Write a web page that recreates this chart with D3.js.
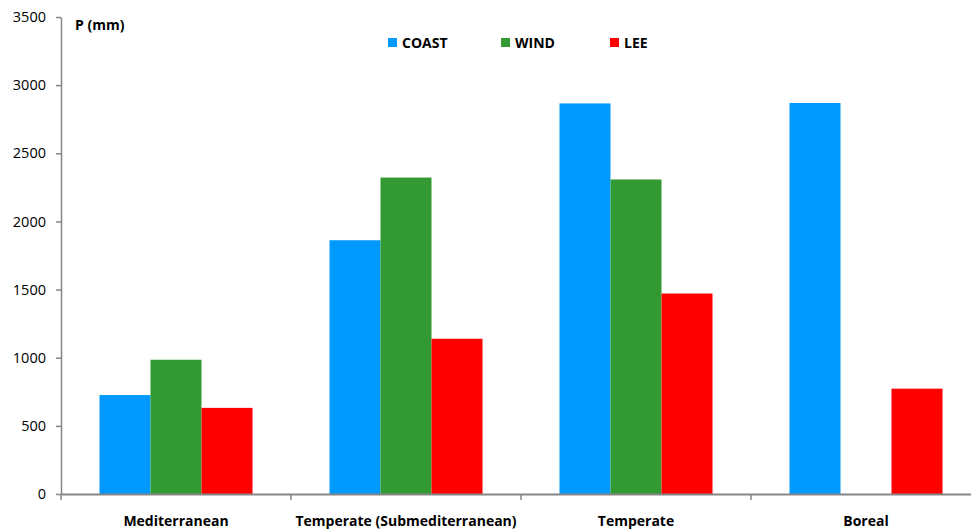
<!DOCTYPE html>
<html lang="en">
<head>
    <meta charset="UTF-8">
    <title>P (mm)</title>
    <script src="https://d3js.org/d3.v7.min.js"></script>
    <style>
        body {margin: 0; background: #fff;}
        text {font-family: "Open Sans", sans-serif;}
    </style>
</head>
<body>
<script>
    const width = 971;
    const height = 531;

    const categories = ["Mediterranean", "Temperate (Submediterranean)", "Temperate", "Boreal"];
    const series = ["COAST", "WIND", "LEE"];
    const coast = [726, 1862, 2866, 2869];
    const wind  = [985, 2322, 2308, null];
    const lee   = [632, 1139, 1471, 773];
    const yTicks = [0, 500, 1000, 1500, 2000, 2500, 3000, 3500];
    const colors = ["#0099ff", "#339933", "#ff0000"];

    const values = [coast, wind, lee];

    const svg = d3.select("body").append("svg")
            .attr("width", width).attr("height", height);

    const x0 = d3.scaleBand().domain(categories).range([61, 981]);
    const x1 = d3.scaleBand().domain(series).range([38.5, 191.5]);
    const y = d3.scaleLinear().domain([0, 3500]).range([494, 17]);

    // y axis
    const yAxis = svg.append("g")
            .attr("transform", "translate(61,0)")
            .call(d3.axisLeft(y).tickValues(yTicks).tickFormat(d3.format("d"))
                    .tickSize(5).tickSizeOuter(0).tickPadding(10));
    yAxis.selectAll("path, line").attr("stroke", "#868686").attr("stroke-width", 1.5);
    yAxis.selectAll("text").style("font-size", "14.5px").attr("fill", "#000");

    // bars
    series.forEach((s, si) => {
        svg.append("g").selectAll("rect")
                .data(categories.map((c, i) => ({c: c, v: values[si][i]})).filter(d => d.v != null))
                .enter()
                .append("rect")
                .attr("x", d => x0(d.c) + x1(s))
                .attr("width", x1.bandwidth())
                .attr("y", d => y(d.v))
                .attr("height", d => y(0) - y(d.v))
                .style("fill", colors[si]);
    });

    // x axis
    const xAxis = svg.append("g")
            .attr("transform", "translate(0,494)")
            .call(d3.axisBottom(x0).tickSize(0).tickPadding(22).tickSizeOuter(0));
    xAxis.select("path").attr("stroke", "#868686").attr("stroke-width", 2);
    xAxis.selectAll("text").style("font-size", "14px").style("font-weight", "bold").attr("fill", "#000");
    xAxis.selectAll("line.sep")
            .data(categories)
            .enter()
            .append("line")
            .attr("class", "sep")
            .attr("x1", d => x0(d)).attr("x2", d => x0(d))
            .attr("y1", 0).attr("y2", 6)
            .attr("stroke", "#868686").attr("stroke-width", 1.5);

    svg.append("text")
            .attr("x", 75).attr("y", 30)
            .style("font-size", "14px").style("font-weight", "bold")
            .text("P (mm)");

    // legend
    const legendX = [388, 501, 610];
    const legend = svg.selectAll("g.legend")
            .data(series)
            .enter()
            .append("g")
            .attr("class", "legend")
            .attr("transform", (d, i) => `translate(${legendX[i]},38)`);
    legend.append("rect")
            .attr("width", 9).attr("height", 9)
            .style("fill", (d, i) => colors[i]);
    legend.append("text")
            .attr("x", 14).attr("y", 10)
            .style("font-size", "14px").style("font-weight", "bold")
            .text(d => d);
</script>
</body>
</html>
